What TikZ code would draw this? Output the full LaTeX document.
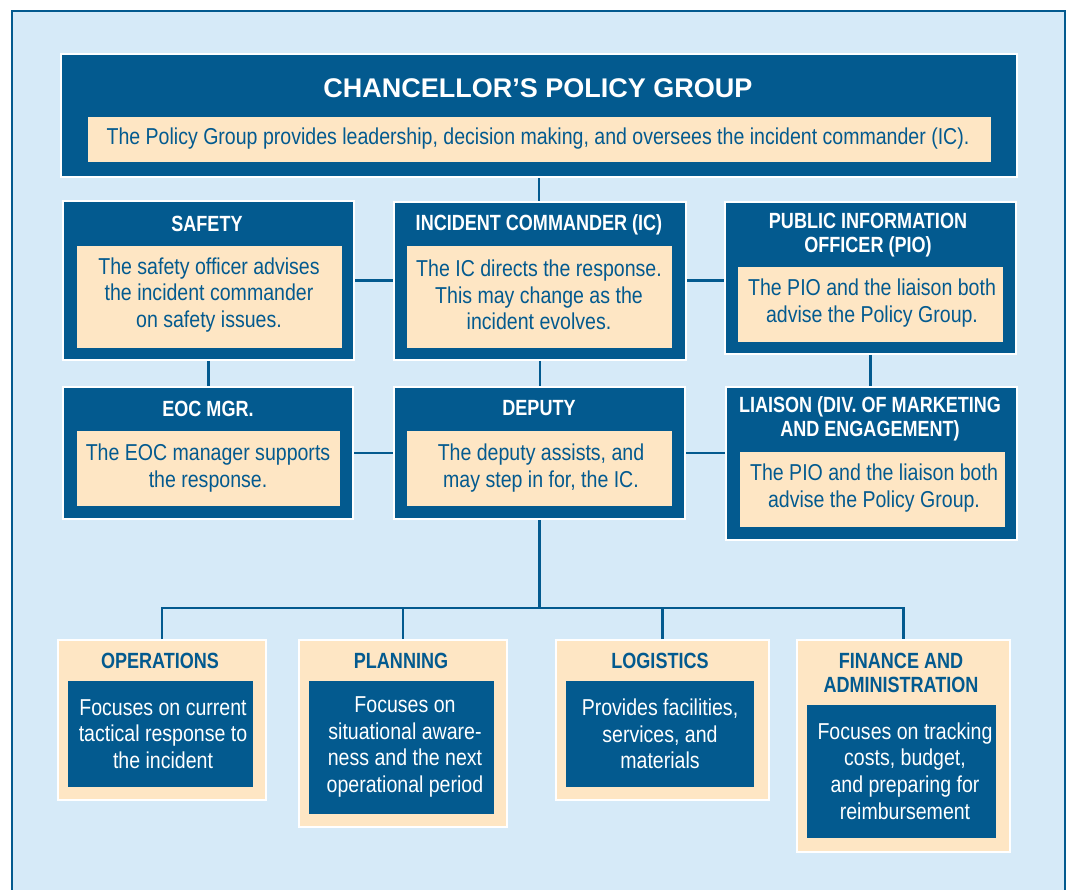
\documentclass[tikz,border=0pt]{standalone}
\usepackage{fontspec}
\setmainfont{Liberation Sans}[FakeStretch=0.85]
\newfontfamily\headfont{Liberation Sans}[FakeStretch=0.82]
\newfontfamily\bigfont{Liberation Sans}
\usetikzlibrary{fit}
\definecolor{dblue}{HTML}{035A8F}
\definecolor{cream}{HTML}{FEE6C4}
\definecolor{bgblue}{HTML}{D6EAF8}
\begin{document}
\begin{tikzpicture}[x=1pt,y=-1pt,
  darkbox/.style={fill=dblue, draw=white, line width=2pt, inner sep=0pt},
  lightbox/.style={fill=cream, draw=white, line width=2pt, inner sep=0pt},
  creambox/.style={fill=cream, draw=none, inner sep=0pt},
  innerdark/.style={fill=dblue, draw=none, inner sep=0pt},
  wtitle/.style={text=white, font=\headfont\fontsize{22}{24}\selectfont\bfseries, align=center, inner sep=0pt},
  btitle/.style={text=dblue, font=\headfont\fontsize{22}{24}\selectfont\bfseries, align=center, inner sep=0pt},
  btext/.style={text=dblue, font=\fontsize{23}{26.7}\selectfont, align=center, inner sep=0pt},
  wtext/.style={text=white, font=\fontsize{23}{26.7}\selectfont, align=center, inner sep=0pt},
  conn/.style={draw=dblue, line width=2.5pt, line join=miter}]
\useasboundingbox (0,0) rectangle (1068,890);
\fill[white] (0,0) rectangle (1068,890);
\fill[bgblue] (12,11) rectangle (1065,895);
\draw[dblue, line width=2pt] (12,895) -- (12,11) -- (1065,11) -- (1065,895);

% top level
\node[darkbox, fit={(61,54) (1017,177)}] (policy) {};
\node[creambox, fit={(88,117) (991,162)}] (policyc) {};
\node[wtitle, font=\bigfont\fontsize{27}{30}\selectfont\bfseries] (policyt) at (538,88) {CHANCELLOR’S POLICY GROUP};
\node[btext] (policyx) at (538,139) {The Policy Group provides leadership, decision making, and oversees the incident commander (IC).};

% row 1
\node[darkbox, fit={(63,201) (354,360)}] (safety) {};
\node[creambox, fit={(77,246) (342,348)}] (safetyc) {};
\node[wtitle] (safetyt) at (207,224) {SAFETY};
\node[btext] (safetyx) at (209,295) {The safety officer advises\\the incident commander\\on safety issues.};

\node[darkbox, fit={(394,202) (686,360)}] (ic) {};
\node[creambox, fit={(407,246) (672,348)}] (icc) {};
\node[wtitle] (ict) at (539,225) {INCIDENT COMMANDER (IC)};
\node[btext] (icx) at (539,295) {The IC directs the response.\\This may change as the\\incident evolves.};

\node[darkbox, fit={(725,202) (1016,354)}] (pio) {};
\node[creambox, fit={(738,267) (1003,342)}] (pioc) {};
\node[wtitle] (piot) at (868,235) {PUBLIC INFORMATION\\OFFICER (PIO)};
\node[btext] (piox) at (872,303) {The PIO and the liaison both\\advise the Policy Group.};

% row 2
\node[darkbox, fit={(63,387) (353,519)}] (eoc) {};
\node[creambox, fit={(77,431) (340,506)}] (eocc) {};
\node[wtitle] (eoct) at (208,409) {EOC MGR.};
\node[btext] (eocx) at (208,468) {The EOC manager supports\\the response.};

\node[darkbox, fit={(394,387) (685,519)}] (deputy) {};
\node[creambox, fit={(407,431) (672,506)}] (deputyc) {};
\node[wtitle] (deputyt) at (539,408) {DEPUTY};
\node[btext] (deputyx) at (541,468) {The deputy assists, and\\may step in for, the IC.};

\node[darkbox, fit={(726,387) (1017,540)}] (liaison) {};
\node[creambox, fit={(740,452) (1005,527)}] (liaisonc) {};
\node[wtitle] (liaisont) at (870,419) {LIAISON (DIV. OF MARKETING\\AND ENGAGEMENT)};
\node[btext] (liaisonx) at (874,488) {The PIO and the liaison both\\advise the Policy Group.};

% bottom row
\node[lightbox, fit={(58,640) (266,800)}] (ops) {};
\node[innerdark, fit={(68,681) (253,787)}] (opsc) {};
\node[btitle] (opst) at (160,661) {OPERATIONS};
\node[wtext] (opsx) at (163,734) {Focuses on current\\tactical response to\\the incident};

\node[lightbox, fit={(299,640) (507,827)}] (plan) {};
\node[innerdark, fit={(309,681) (494,814)}] (planc) {};
\node[btitle] (plant) at (401,661) {PLANNING};
\node[wtext] (planx) at (405,747) {Focuses on\\situational aware-\\ness and the next\\operational period};

\node[lightbox, fit={(556,640) (769,800)}] (log) {};
\node[innerdark, fit={(566,681) (754,787)}] (logc) {};
\node[btitle] (logt) at (660,661) {LOGISTICS};
\node[wtext] (logx) at (660,734) {Provides facilities,\\services, and\\materials};

\node[lightbox, fit={(797,640) (1010,852)}] (fin) {};
\node[innerdark, fit={(807,705) (996,838)}] (finc) {};
\node[btitle] (fint) at (901,673) {FINANCE AND\\ADMINISTRATION};
\node[wtext] (finx) at (905,771) {Focuses on tracking\\costs, budget,\\and preparing for\\reimbursement};

% connectors
\coordinate (bus) at (539,608);
\draw[conn] (policy.south) -- (policy.south |- ic.north);
\draw[conn] (safety.east) -- (safety.east -| ic.west);
\draw[conn] (ic.east |- safety.east) -- (pio.west |- safety.east);
\draw[conn] (safety.south) -- (safety.south |- eoc.north);
\draw[conn] (ic.south) -- (ic.south |- deputy.north);
\draw[conn] (pio.south) -- (pio.south |- liaison.north);
\draw[conn] (eoc.east) -- (eoc.east -| deputy.west);
\draw[conn] (deputy.east) -- (deputy.east -| liaison.west);
\draw[conn] (deputy.south) -- (deputy.south |- bus);
\draw[conn] (ops.north) -- (ops.north |- bus) -- (fin.north |- bus) -- (fin.north);
\draw[conn] (plan.north) -- (plan.north |- bus);
\draw[conn] (log.north) -- (log.north |- bus);
\end{tikzpicture}
\end{document}
